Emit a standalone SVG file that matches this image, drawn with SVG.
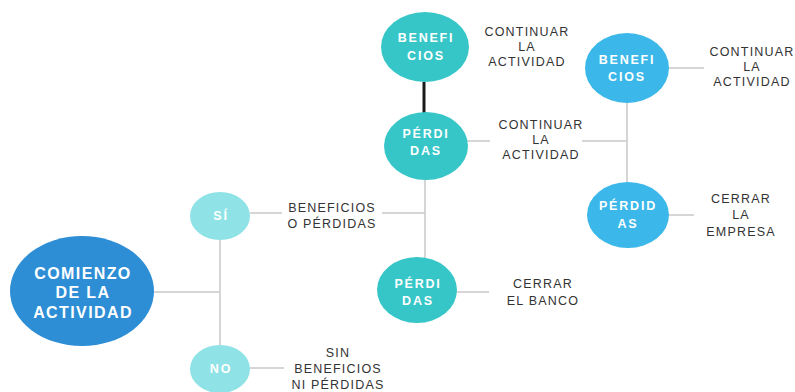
<svg xmlns="http://www.w3.org/2000/svg" width="795" height="392" viewBox="0 0 795 392">
<style>
.c{stroke:#c9c9c9;stroke-width:1.5;fill:none}
.k{stroke:#1a1a1a;stroke-width:3;fill:none}
.n{font-family:"Liberation Sans",Arial,sans-serif;font-weight:bold;fill:#fff;text-anchor:middle;font-size:12.5px;letter-spacing:1.8px}
.big{font-size:16px;letter-spacing:1.4px}
.l{font-family:"Liberation Sans",Arial,sans-serif;fill:#333;text-anchor:middle;font-size:12.5px;letter-spacing:1.2px}
.teal{fill:#37c6c8}
.sky{fill:#3bb8e9}
.pale{fill:#8fe3e6}
</style>
<rect width="795" height="392" fill="#fff"/>
<g id="connectors">
<line class="c" x1="154" y1="292" x2="220" y2="292"/>
<line class="c" x1="220" y1="240" x2="220" y2="345"/>
<line class="c" x1="250" y1="213" x2="282" y2="213"/>
<line class="c" x1="382" y1="213" x2="425" y2="213"/>
<line class="c" x1="250" y1="368" x2="284" y2="368"/>
<line class="k" x1="424" y1="82" x2="424" y2="115"/>
<line class="c" x1="425" y1="180" x2="425" y2="262"/>
<line class="c" x1="467" y1="141" x2="490" y2="141"/>
<line class="c" x1="582" y1="141" x2="627" y2="141"/>
<line class="c" x1="455" y1="292" x2="489" y2="292"/>
<line class="c" x1="627" y1="102" x2="627" y2="183"/>
<line class="c" x1="668" y1="68" x2="704" y2="68"/>
<line class="c" x1="668" y1="215" x2="694" y2="215"/>
</g>
<g id="comienzo">
<ellipse cx="82" cy="291" rx="72" ry="55" fill="#2d8ed5"/>
<text class="n big" x="83" y="279">COMIENZO</text>
<text class="n big" x="83" y="298">DE LA</text>
<text class="n big" x="83" y="318">ACTIVIDAD</text>
</g>
<g id="si">
<ellipse cx="220" cy="216" rx="30" ry="24" class="pale"/>
<text class="n" x="221" y="220">SÍ</text>
</g>
<g id="no">
<ellipse cx="220" cy="369" rx="30" ry="24" class="pale"/>
<text class="n" x="221" y="373">NO</text>
</g>
<g id="beneficios-perdidas-label">
<text class="l" x="332" y="212">BENEFICIOS</text>
<text class="l" x="332" y="228">O PÉRDIDAS</text>
</g>
<g id="sin-label">
<text class="l" x="338" y="357">SIN</text>
<text class="l" x="338" y="373">BENEFICIOS</text>
<text class="l" x="338" y="389">NI PÉRDIDAS</text>
</g>
<g id="beneficios-top">
<ellipse cx="425" cy="47" rx="44" ry="35" class="teal"/>
<text class="n" x="426" y="42">BENEFI</text>
<text class="n" x="426" y="60">CIOS</text>
<text class="l" x="527" y="36">CONTINUAR</text>
<text class="l" x="527" y="51">LA</text>
<text class="l" x="527" y="66">ACTIVIDAD</text>
</g>
<g id="perdidas-mid">
<ellipse cx="426" cy="146" rx="42" ry="34" class="teal"/>
<text class="n" x="426" y="138">PÉRDI</text>
<text class="n" x="426" y="155">DAS</text>
<text class="l" x="541" y="129">CONTINUAR</text>
<text class="l" x="541" y="144">LA</text>
<text class="l" x="541" y="159">ACTIVIDAD</text>
</g>
<g id="perdidas-low">
<ellipse cx="417" cy="290" rx="40" ry="33" class="teal"/>
<text class="n" x="418" y="288">PÉRDI</text>
<text class="n" x="418" y="305">DAS</text>
<text class="l" x="543" y="288">CERRAR</text>
<text class="l" x="543" y="305">EL BANCO</text>
</g>
<g id="beneficios-right">
<ellipse cx="627" cy="68" rx="42" ry="35" class="sky"/>
<text class="n" x="627" y="64">BENEFI</text>
<text class="n" x="627" y="81">CIOS</text>
<text class="l" x="752" y="56">CONTINUAR</text>
<text class="l" x="752" y="71">LA</text>
<text class="l" x="752" y="86">ACTIVIDAD</text>
</g>
<g id="perdidas-right">
<ellipse cx="628" cy="215" rx="41" ry="33" class="sky"/>
<text class="n" x="628" y="210">PÉRDID</text>
<text class="n" x="628" y="228">AS</text>
<text class="l" x="741" y="203">CERRAR</text>
<text class="l" x="741" y="219">LA</text>
<text class="l" x="741" y="236">EMPRESA</text>
</g>
</svg>
